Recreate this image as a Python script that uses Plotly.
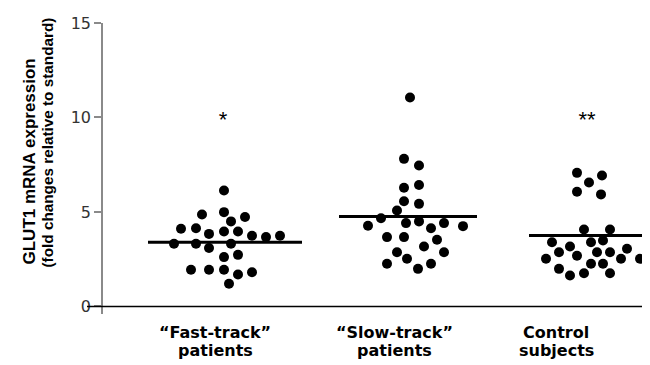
import plotly.graph_objects as go

# ---------------- data ----------------
group_line1 = ["“Fast-track”", "“Slow-track”", "Control"]
group_line2 = ["patients", "patients", "subjects"]
group_label_x = [11.2, 29.1, 45.3]

fast_x = [12.1, 9.9, 12.1, 14.2, 12.8, 7.8, 9.3, 12.1, 13.5, 10.6, 14.9, 16.3, 17.7,
          7.1, 9.3, 12.8, 10.6, 12.1, 13.5, 8.8, 10.6, 12.1, 13.5, 14.9, 12.6]
fast_y = [6.14, 4.87, 4.99, 4.73, 4.50, 4.11, 4.14, 3.97, 3.97, 3.84, 3.74, 3.67, 3.74,
          3.32, 3.32, 3.32, 3.09, 2.61, 2.73, 1.94, 1.94, 1.94, 1.69, 1.81, 1.20]

slow_x = [30.7, 30.1, 31.6, 30.1, 31.6, 30.1, 31.6, 29.4, 27.8, 26.5, 30.3, 31.6, 32.8,
          34.1, 36.0, 28.4, 30.1, 33.4, 32.1, 29.4, 34.1, 30.4, 28.4, 32.8, 31.5]
slow_y = [11.06, 7.81, 7.46, 6.28, 6.43, 5.57, 5.43, 5.08, 4.67, 4.27, 4.41, 4.50, 4.14,
          4.41, 4.25, 3.67, 3.67, 3.53, 3.17, 2.87, 2.87, 2.52, 2.26, 2.26, 1.99]

ctrl_x = [47.4, 49.9, 48.6, 47.4, 49.8, 48.1, 50.7, 44.9, 48.8, 50.0, 46.7, 45.6, 49.4,
          52.4, 47.4, 50.7, 44.3, 51.8, 53.7, 48.8, 50.0, 45.6, 48.1, 50.7, 46.7]
ctrl_y = [7.07, 6.93, 6.56, 6.07, 5.93, 4.07, 4.07, 3.40, 3.40, 3.49, 3.17, 2.87, 2.87,
          3.05, 2.68, 2.87, 2.52, 2.52, 2.52, 2.26, 2.26, 1.99, 1.76, 1.76, 1.64]

group_means = [3.40, 4.76, 3.76]
significance = ["*", "", "**"]
significance_y = [9.8, 9.8, 9.8]
significance_x = [12.0, 30.0, 48.4]

y_ticks = [0, 5, 10, 15]

# ---------------- layout helpers (styling) ----------------
mean_line_extent = [(4.5, 19.9), (23.6, 37.4), (42.6, 54.2)]
X_RANGE = [0, 54.7]
Y_RANGE = [-0.4, 15]

# the page body adds an 8px offset; compensate so the plot sits where the reference has it
PAGE_OFFSET = 8
PLOT_LEFT, PLOT_TOP, PLOT_W, PLOT_H = 103, 23, 547, 291


def px_to_paper_y(py):
    return (PLOT_TOP + PLOT_H - py) / PLOT_H


def px_to_paper_x(px):
    return (px - PLOT_LEFT) / PLOT_W


fig = go.Figure()

for xs, ys in [(fast_x, fast_y), (slow_x, slow_y), (ctrl_x, ctrl_y)]:
    fig.add_trace(go.Scatter(x=xs, y=ys, mode="markers",
                             marker=dict(color="black", size=10, line=dict(width=0)),
                             showlegend=False, hoverinfo="y"))

for (x0, x1), m in zip(mean_line_extent, group_means):
    fig.add_trace(go.Scatter(x=[x0, x1], y=[m, m], mode="lines",
                             line=dict(color="black", width=3),
                             showlegend=False, hoverinfo="skip"))

sig_x = [x for x, s in zip(significance_x, significance) if s]
sig_y = [y for y, s in zip(significance_y, significance) if s]
sig_t = [s for s in significance if s]
fig.add_trace(go.Scatter(x=sig_x, y=sig_y, mode="text", text=sig_t,
                         textposition="middle center",
                         textfont=dict(family="Liberation Sans", size=22, color="black"),
                         showlegend=False, hoverinfo="skip"))

# x-axis baseline at y = 0, extending slightly left of the y-axis
fig.add_shape(type="line", xref="paper", yref="y", x0=px_to_paper_x(87), x1=1, y0=0, y1=0,
              line=dict(color="black", width=1.5))

# category labels (two lines each)
for gx, l1, l2 in zip(group_label_x, group_line1, group_line2):
    fig.add_annotation(x=gx, y=px_to_paper_y(332), xref="x", yref="paper", text="<b>" + l1 + "</b>",
                       showarrow=False, xanchor="center", yanchor="middle",
                       font=dict(family="DejaVu Sans", size=16, color="black"))
    fig.add_annotation(x=gx, y=px_to_paper_y(350), xref="x", yref="paper", text="<b>" + l2 + "</b>",
                       showarrow=False, xanchor="center", yanchor="middle",
                       font=dict(family="DejaVu Sans", size=16, color="black"))

# y-axis title (two lines)
fig.add_annotation(x=px_to_paper_x(29), y=px_to_paper_y(161.5), xref="paper", yref="paper",
                   text="<b>GLUT1 mRNA expression</b>", textangle=-90, showarrow=False,
                   xanchor="center", yanchor="middle",
                   font=dict(family="Liberation Sans", size=17, color="black"))
fig.add_annotation(x=px_to_paper_x(46.5), y=px_to_paper_y(143), xref="paper", yref="paper",
                   text="<b>(fold changes relative to standard)</b>", textangle=-90, showarrow=False,
                   xanchor="center", yanchor="middle",
                   font=dict(family="Liberation Sans", size=15.3, color="black"))

fig.update_layout(
    width=650 - PAGE_OFFSET, height=365 - PAGE_OFFSET,
    margin=dict(l=PLOT_LEFT - PAGE_OFFSET, r=0, t=PLOT_TOP - PAGE_OFFSET,
                b=365 - PLOT_TOP - PLOT_H, pad=0),
    paper_bgcolor="white", plot_bgcolor="white",
    xaxis=dict(range=X_RANGE, showgrid=False, zeroline=False, showline=False,
               showticklabels=False, ticks=""),
    yaxis=dict(range=Y_RANGE, tickvals=y_ticks, showgrid=False, zeroline=False,
               showline=True, linecolor="#8a8a8a", linewidth=1.5,
               ticks="outside", ticklen=7, tickcolor="#8a8a8a", tickwidth=1.5,
               tickfont=dict(family="DejaVu Sans", size=16, color="#333333")),
)

fig.write_html("out.html")
